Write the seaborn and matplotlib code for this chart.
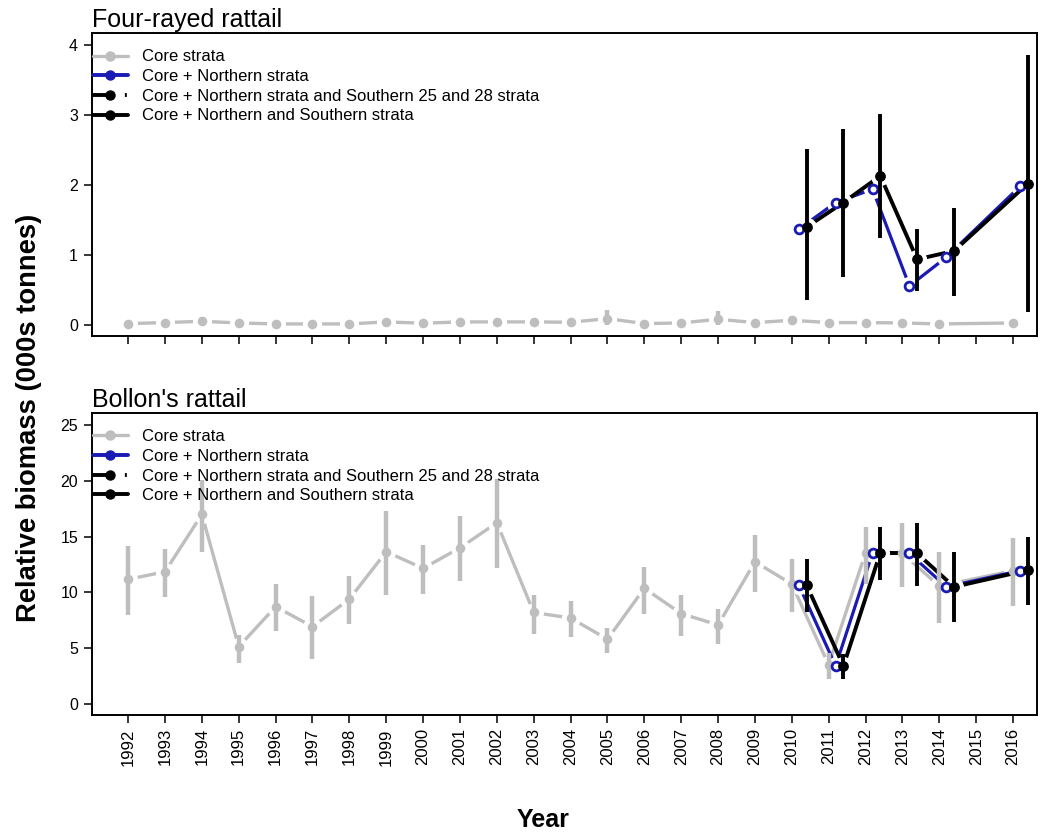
import numpy as np
import matplotlib
matplotlib.use("Agg")
import matplotlib.pyplot as plt
import seaborn as sns
from matplotlib.lines import Line2D

# ---------------- data ----------------
core_years = [1992, 1993, 1994, 1995, 1996, 1997, 1998, 1999, 2000, 2001, 2002, 2003,
              2004, 2005, 2006, 2007, 2008, 2009, 2010, 2011, 2012, 2013, 2014, 2016]
ext_years = [2010, 2011, 2012, 2013, 2014, 2016]
tick_years = list(range(1992, 2017))

# Four-rayed rattail
four_core = [0.024, 0.038, 0.057, 0.033, 0.019, 0.019, 0.019, 0.048, 0.029, 0.048, 0.048, 0.048,
             0.043, 0.095, 0.024, 0.033, 0.086, 0.038, 0.071, 0.038, 0.038, 0.033, 0.019, 0.033]
four_core_lo = [0.01, 0.02, 0.00, 0.02, 0.01, 0.01, 0.01, 0.01, 0.02, 0.01, 0.03, 0.03,
                0.03, 0.00, 0.01, 0.02, 0.00, 0.02, 0.00, 0.02, 0.02, 0.02, 0.01, 0.02]
four_core_hi = [0.04, 0.06, 0.12, 0.05, 0.03, 0.03, 0.03, 0.09, 0.04, 0.08, 0.07, 0.07,
                0.06, 0.22, 0.04, 0.05, 0.20, 0.06, 0.13, 0.06, 0.06, 0.05, 0.03, 0.05]
four_north = [1.37, 1.75, 1.94, 0.56, 0.97, 1.98]
four_s2528 = []
four_south = [1.40, 1.75, 2.13, 0.94, 1.06, 2.02]
four_south_lo = [0.36, 0.69, 1.24, 0.49, 0.42, 0.19]
four_south_hi = [2.51, 2.80, 3.01, 1.37, 1.67, 3.85]

# Bollon's rattail
boll_core = [11.17, 11.86, 17.0, 5.13, 8.72, 6.93, 9.4, 13.65, 12.16, 14.0, 16.25, 8.2,
             7.7, 5.8, 10.37, 8.1, 7.08, 12.75, 10.75, 3.5, 13.56, 13.5, 10.57, 11.95]
boll_core_lo = [7.97, 9.6, 13.65, 3.7, 6.57, 4.0, 7.14, 9.77, 9.9, 11.0, 12.2, 6.3,
                5.97, 4.6, 8.1, 6.1, 5.38, 10.06, 8.2, 2.2, 10.8, 10.5, 7.23, 8.78]
boll_core_hi = [14.2, 13.9, 20.1, 6.2, 10.8, 9.7, 11.5, 17.3, 14.25, 16.9, 20.2, 9.77,
                9.26, 6.78, 12.3, 9.8, 8.48, 15.14, 12.96, 4.6, 15.9, 16.25, 13.65, 14.9]
boll_north = [10.66, 3.4, 13.56, 13.5, 10.5, 11.95]
boll_s2528 = []
boll_south = [10.66, 3.4, 13.56, 13.5, 10.5, 12.0]
boll_south_lo = [8.27, 2.24, 11.1, 10.57, 7.38, 8.87]
boll_south_hi = [13.0, 4.48, 15.9, 16.25, 13.65, 15.0]

series_labels = ["Core strata", "Core + Northern strata",
                 "Core + Northern strata and Southern 25 and 28 strata",
                 "Core + Northern and Southern strata"]

# ---------------- style ----------------
sns.set_theme(style="ticks")
plt.rcParams['font.family'] = ['Liberation Sans', 'DejaVu Sans']
plt.rcParams['text.color'] = 'black'
plt.rcParams['axes.labelcolor'] = 'black'
plt.rcParams['xtick.color'] = 'black'
plt.rcParams['ytick.color'] = 'black'
GREY = "#bebebe"
BLUE = "#1a1ab4"
BLACK = "#000000"
W, H = 1041, 838

fig = plt.figure(figsize=(W / 100, H / 100), dpi=100)
ax1 = fig.add_axes([92 / W, 1 - 336 / H, (1037 - 92) / W, (336 - 33) / H])
ax2 = fig.add_axes([92 / W, 1 - 715 / H, (1037 - 92) / W, (715 - 413) / H])

HALO = 190


def line(ax, x, y, color, lw, z):
    n0 = len(ax.lines)
    sns.lineplot(x=x, y=y, ax=ax, color=color, linewidth=lw, legend=False)
    for ln in ax.lines[n0:]:
        ln.set_zorder(z)


def draw(ax, core, core_lo, core_hi, north, south, south_lo, south_hi):
    cx = np.array(core_years, float)
    bx = np.array(ext_years, float) + 0.19
    kx = np.array(ext_years, float) + 0.40
    # lines with white gaps around the points
    line(ax, cx, core, GREY, 2.4, 1.0)
    ax.scatter(cx, core, s=HALO, color="white", linewidths=0, zorder=1.1)
    line(ax, bx, north, BLUE, 2.3, 1.2)
    ax.scatter(bx, north, s=HALO, color="white", linewidths=0, zorder=1.3)
    line(ax, kx, south, BLACK, 2.8, 1.4)
    ax.scatter(kx, south, s=HALO, color="white", linewidths=0, zorder=1.5)
    # error bars + markers
    ax.vlines(cx, core_lo, core_hi, color=GREY, linewidth=3.2, zorder=2)
    sns.scatterplot(x=cx, y=core, ax=ax, s=48, color=GREY, linewidth=0, zorder=2.1, legend=False)
    sns.scatterplot(x=bx, y=north, ax=ax, s=40, color="white", edgecolor=BLUE, linewidth=2.0,
                    zorder=2.2, legend=False)
    ax.vlines(kx, south_lo, south_hi, color=BLACK, linewidth=2.8, zorder=2.3)
    sns.scatterplot(x=kx, y=south, ax=ax, s=60, color=BLACK, linewidth=0, zorder=2.4, legend=False)

    ax.set_xlim(1991.02, 2016.65)
    ax.set_xticks(tick_years)
    for s in ax.spines.values():
        s.set_linewidth(1.4)
        s.set_color("black")
    ax.tick_params(axis="both", direction="out", length=6, width=1.1, color="black",
                   labelsize=11.5, labelcolor="black")
    ax.tick_params(axis="y", pad=4)
    ax.set_xlabel("")
    ax.set_ylabel("")

    handles = [
        Line2D([], [], color=GREY, lw=2.4, marker="o", ms=6.5, mfc=GREY, mec=GREY),
        Line2D([], [], color=BLUE, lw=2.8, marker="o", ms=6.5, mfc=BLUE, mec=BLUE),
        Line2D([], [], color=BLACK, lw=2.8, marker="o", ms=6.5, mfc=BLACK, mec=BLACK,
               dashes=(3.7, 4.5, 0.5, 10)),
        Line2D([], [], color=BLACK, lw=2.8, marker="o", ms=6.5, mfc=BLACK, mec=BLACK),
    ]
    ax.legend(handles, series_labels, loc="upper left", bbox_to_anchor=(0.001, 0.946),
              frameon=False, fontsize=12, handlelength=2.1, handletextpad=0.82,
              labelspacing=0.28, borderpad=0, borderaxespad=0)


draw(ax1, four_core, four_core_lo, four_core_hi, four_north, four_south, four_south_lo, four_south_hi)
draw(ax2, boll_core, boll_core_lo, boll_core_hi, boll_north, boll_south, boll_south_lo, boll_south_hi)

ax1.set_ylim(-0.153, 4.167)
ax1.set_yticks([0, 1, 2, 3, 4])
ax1.set_xticklabels([])
ax2.set_ylim(-1.0, 26.1)
ax2.set_yticks([0, 5, 10, 15, 20, 25])
ax2.set_xticklabels([str(y) for y in tick_years], rotation=90, fontsize=12)
ax2.tick_params(axis="x", pad=3.5)

ax1.set_title("Four-rayed rattail", loc="left", fontsize=18, pad=4.5)
ax2.set_title("Bollon's rattail", loc="left", fontsize=18, pad=4.5)

fig.text(29 / W, 1 - 418 / H, "Relative biomass (000s tonnes)", rotation=90,
         ha="center", va="center", fontsize=19.7, fontweight="bold")
fig.text(543 / W, 1 - 820 / H, "Year", ha="center", va="center", fontsize=18,
         fontweight="bold")

fig.savefig("out.png", dpi=100)
